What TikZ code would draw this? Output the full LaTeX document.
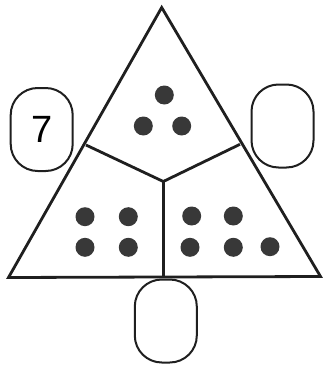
\documentclass[tikz,border=0pt]{standalone}
\usepackage{fontspec}
\setmainfont{Liberation Sans}
\begin{document}
\begin{tikzpicture}[x=1pt,y=-1pt,
  ln/.style={draw=black!88, line width=2.8pt, line join=miter},
  slot/.style={draw=black!88, line width=2pt, rounded corners=27pt, minimum width=62pt, minimum height=83pt, inner sep=0pt, font=\fontsize{38}{40}\selectfont},
  dot/.style={circle, fill=black!78, minimum size=19pt, inner sep=0pt}]
\useasboundingbox (0,0) rectangle (322,367);
\coordinate (A) at (161.7,7.5);
\coordinate (B) at (8.5,277.5);
\coordinate (C) at (320.5,276.5);
\coordinate (P) at (86,145);
\coordinate (Q) at (240,144.3);
\coordinate (M) at (163.3,181.5);
\coordinate (N) at (163.3,277);
\draw[ln] (A) -- (B) -- (C) -- cycle;
\draw[ln] (P) -- (M) -- (Q);
\draw[ln] (M) -- (N);
\node[slot] (L) at (41.7,129.5) {7};
\node[slot] (R) at (282.5,126) {};
\node[slot] (D) at (165.8,321) {};
\node[dot] (t1) at (164.3,95) {};
\node[dot] (t2) at (143.3,126) {};
\node[dot] (t3) at (181.7,126) {};
\node[dot] (l1) at (85,216.7) {};
\node[dot] (l2) at (128.3,216.7) {};
\node[dot] (l3) at (85,247.3) {};
\node[dot] (l4) at (128.3,247.3) {};
\node[dot] (r1) at (191.7,216) {};
\node[dot] (r2) at (233.3,216) {};
\node[dot] (r3) at (190,247.3) {};
\node[dot] (r4) at (233.3,247.3) {};
\node[dot] (r5) at (270,246.7) {};
\end{tikzpicture}
\end{document}
